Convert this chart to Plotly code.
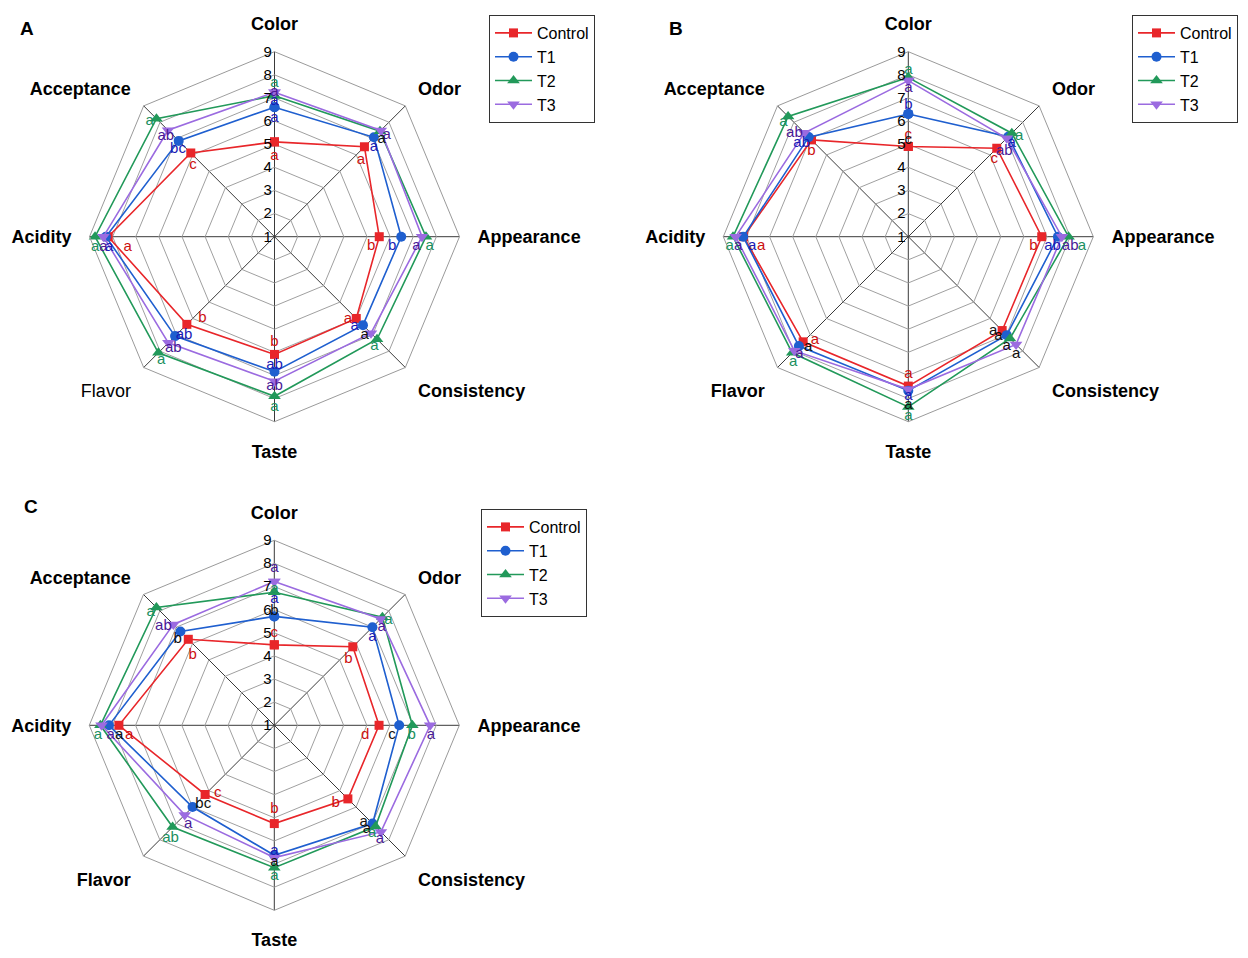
import math
import plotly.graph_objects as go

# ---------------- data ----------------
categories = ["Color", "Odor", "Appearance", "Consistency", "Taste", "Flavor", "Acidity", "Acceptance"]
series_names = ["Control", "T1", "T2", "T3"]
radial_ticks = [1, 2, 3, 4, 5, 6, 7, 8, 9]

A_control = [5.10, 6.50, 5.53, 6.00, 6.09, 6.36, 8.19, 6.12]
A_t1 = [6.60, 7.08, 6.48, 6.41, 6.84, 7.08, 8.29, 6.86]
A_t2 = [7.10, 7.45, 7.55, 7.27, 7.90, 8.10, 8.76, 8.22]
A_t3 = [7.25, 7.50, 7.38, 6.90, 7.25, 7.49, 8.40, 7.51]

B_control = [4.90, 6.41, 6.77, 6.74, 7.46, 7.43, 8.12, 6.92]
B_t1 = [6.31, 7.12, 7.47, 7.02, 7.66, 7.69, 8.14, 7.09]
B_t2 = [7.88, 7.33, 7.93, 7.22, 8.36, 8.10, 8.58, 8.35]
B_t3 = [7.75, 7.02, 7.64, 7.59, 7.60, 7.97, 8.47, 7.35]

C_control = [4.48, 5.80, 5.53, 5.50, 5.25, 5.23, 7.72, 6.26]
C_t1 = [5.71, 7.00, 6.40, 7.01, 6.62, 6.00, 8.15, 6.74]
C_t2 = [6.75, 7.61, 6.97, 7.19, 7.16, 7.22, 8.52, 8.21]
C_t3 = [7.22, 7.50, 7.74, 7.52, 6.72, 6.48, 8.47, 7.17]

# significance letters: (series index, category index, letter, colour key)
A_letters = [
    (2, 0, "a", "T2"), (3, 0, "a", "T3"), (1, 0, "a", "T1"), (1, 0, "a", "T1"), (0, 0, "a", "C"),
    (0, 1, "a", "C"), (1, 1, "a", "T1"), (3, 1, "a", "T3"), (2, 1, "a", "K"),
    (0, 2, "b", "C"), (1, 2, "b", "T1"), (3, 2, "a", "T3"), (2, 2, "a", "T2"),
    (0, 3, "a", "C"), (1, 3, "a", "T1"), (3, 3, "a", "K"), (2, 3, "a", "T2"),
    (0, 4, "b", "C"), (1, 4, "ab", "T1"), (3, 4, "ab", "T3"), (2, 4, "a", "T2"),
    (0, 5, "b", "C"), (1, 5, "ab", "T1"), (3, 5, "ab", "T3"), (2, 5, "a", "T2"),
    (2, 6, "a", "T2"), (3, 6, "a", "T3"), (1, 6, "a", "T1"), (0, 6, "a", "C"),
    (0, 7, "c", "C"), (1, 7, "bc", "T1"), (3, 7, "ab", "T3"), (2, 7, "a", "T2"),
]
B_letters = [
    (2, 0, "a", "T2"), (3, 0, "a", "T3"), (1, 0, "b", "T1"), (0, 0, "c", "C"), (0, 0, "c", "K"),
    (0, 1, "c", "C"), (3, 1, "ab", "T3"), (1, 1, "a", "T1"), (2, 1, "a", "T2"),
    (0, 2, "b", "C"), (1, 2, "ab", "T1"), (3, 2, "ab", "T3"), (2, 2, "a", "T2"),
    (0, 3, "a", "K"), (1, 3, "a", "K"), (2, 3, "a", "K"), (3, 3, "a", "K"),
    (0, 4, "a", "C"), (1, 4, "a", "T1"), (3, 4, "a", "K"), (2, 4, "a", "T2"),
    (0, 5, "a", "C"), (1, 5, "a", "K"), (3, 5, "a", "T3"), (2, 5, "a", "T2"),
    (2, 6, "a", "T2"), (3, 6, "a", "T3"), (1, 6, "a", "T1"), (0, 6, "a", "C"),
    (0, 7, "b", "C"), (1, 7, "ab", "T1"), (3, 7, "ab", "T3"), (2, 7, "a", "T2"),
]
C_letters = [
    (3, 0, "a", "T3"), (2, 0, "a", "T2"), (1, 0, "a", "T1"), (1, 0, "b", "K"), (0, 0, "c", "C"),
    (0, 1, "b", "C"), (1, 1, "a", "T1"), (3, 1, "a", "T3"), (2, 1, "a", "T2"),
    (0, 2, "d", "C"), (1, 2, "c", "K"), (2, 2, "b", "T2"), (3, 2, "a", "T3"),
    (0, 3, "b", "C"), (1, 3, "a", "K"), (2, 3, "a", "K"), (2, 3, "a", "T2"), (3, 3, "a", "T3"),
    (0, 4, "b", "C"), (1, 4, "a", "T1"), (3, 4, "a", "K"), (2, 4, "a", "T2"),
    (0, 5, "c", "C"), (1, 5, "bc", "K"), (3, 5, "a", "T3"), (2, 5, "ab", "T2"),
    (2, 6, "a", "T2"), (3, 6, "a", "T3"), (1, 6, "a", "K"), (0, 6, "a", "C"),
    (0, 7, "b", "C"), (1, 7, "b", "K"), (3, 7, "ab", "T3"), (2, 7, "a", "T2"),
]

# ---------------- label placement (screen px offsets from the point: right, down) ----------------
A_offsets = [(0, -12.5), (0, 0), (0, -6), (0, 11), (0, 14.7),
             (-3.5, 14), (0, 10), (6, 4.5), (1.6, 7.7),
             (-8, 10), (-9, 10), (-5.7, 10), (3.6, 10),
             (-8.3, 1), (-8.4, 1), (-6.4, 1.7), (-2.7, 7.4),
             (0, -12), (0, -6), (0, 5), (0, 10.7),
             (15.6, -6), (9, -0.7), (5, 5.4), (2.7, 7.3),
             (0, 11), (0, 11), (3.3, 11), (19.4, 11),
             (2.3, 12.7), (-0.7, 8.3), (-2.3, 6), (-6.7, 2.3)]
B_offsets = [(0, -7), (0, 7.6), (0, -9), (0, -11.7), (0, -6.7),
             (-2.4, 11.4), (-2.4, 12.7), (3.4, 6.3), (7.3, 3.4),
             (-8.4, 10), (-5.4, 10), (8.3, 10), (13.4, 10),
             (-9, 1), (-8.4, 1), (-3.3, 7.6), (0, 10),
             (0, -12), (0, 5.3), (0, 15.7), (0, 9),
             (11.7, -1.7), (9.3, 1.6), (5, 4), (1, 9.4),
             (-3.3, 10), (2.6, 10), (9, 10), (17.4, 10),
             (0, 11.4), (-7, 6), (-10, 0), (-4.7, 5.7)]
C_offsets = [(0, -13.4), (0, -3.4), (0, -16.7), (0, -5), (0, -11.7),
             (-4.4, 12.7), (0, 9.6), (1, 8), (6, 3.4),
             (-14, 10), (-7.3, 10), (-0.6, 10), (0.7, 10),
             (-12.3, 4), (-9, -1), (-8.7, 2.4), (-3.3, 6.7), (-1, 7.7),
             (0, -14.3), (0, -4.4), (0, 5), (0, 8.3),
             (12.7, -1.7), (10.7, -2.7), (3.4, 9.3), (-2, 11.7),
             (-2.4, 10), (9, 10), (10.3, 10), (10.3, 10),
             (4.3, 16), (-2.7, 8.3), (-10, 1.7), (-5.7, 4.4)]

# ---------------- styles ----------------
W, H = 1248, 958
R_PX = 185.0
PX_PER_UNIT = R_PX / (radial_ticks[-1] - radial_ticks[0])
FONT = "Arial, Liberation Sans, sans-serif"

line_colors = ["#e8262a", "#1f5fcf", "#22995a", "#9b6be0"]
marker_symbols = ["square", "circle", "triangle-up", "triangle-down"]
marker_sizes = [9, 10, 11, 11]
letter_colors = {"C": "#cc1010", "T1": "#1a1ab4", "T2": "#1a9060", "T3": "#4a1a96", "K": "#111111"}

panels = [
    dict(name="A", center=(274.5, 236.7), data=[A_control, A_t1, A_t2, A_t3],
         letters=A_letters, offsets=A_offsets, legend="legend", plain=["Flavor"]),
    dict(name="B", center=(908.3, 236.7), data=[B_control, B_t1, B_t2, B_t3],
         letters=B_letters, offsets=B_offsets, legend="legend2", plain=[]),
    dict(name="C", center=(274.3, 725.3), data=[C_control, C_t1, C_t2, C_t3],
         letters=C_letters, offsets=C_offsets, legend="legend3", plain=[]),
]
legend_pos = {"legend": (489, 15), "legend2": (1132, 15), "legend3": (481, 509)}
panel_label_pos = {"A": (18, 16), "B": (676, 16), "C": (22, 506)}

fig = go.Figure()
layout = {}

for i, p in enumerate(panels):
    main = "polar" if i == 0 else f"polar{2 * i + 1}"
    over = f"polar{2 * i + 2}"
    cx, cy = p["center"]
    dom = dict(x=[(cx - R_PX) / W, (cx + R_PX) / W],
               y=[1 - (cy + R_PX) / H, 1 - (cy - R_PX) / H])
    ticktext = [c if c in p["plain"] else f"<b>{c}</b>" for c in categories]
    layout[main] = dict(
        domain=dom, gridshape="linear", bgcolor="white",
        angularaxis=dict(type="category", categoryarray=categories, rotation=90, direction="clockwise",
                         tickmode="array", tickvals=categories, ticktext=ticktext,
                         tickfont=dict(family=FONT, size=18, color="black"),
                         ticks="outside", ticklen=14, tickcolor="rgba(0,0,0,0)",
                         showline=True, linecolor="#9a9a9a", linewidth=1,
                         showgrid=True, gridcolor="#3a3a3a", gridwidth=1),
        radialaxis=dict(range=[radial_ticks[0], radial_ticks[-1]], angle=90, tickangle=90,
                        side="counterclockwise",
                        tickmode="array", tickvals=radial_ticks, ticktext=[str(t) for t in radial_ticks],
                        tickfont=dict(family=FONT, size=15, color="black"),
                        showline=False, ticks="", showgrid=True, gridcolor="#a0a0a0", gridwidth=1),
    )
    layout[over] = dict(
        domain=dom, bgcolor="rgba(0,0,0,0)",
        angularaxis=dict(rotation=90, direction="clockwise", thetaunit="degrees",
                         visible=False, showgrid=False, showline=False, showticklabels=False),
        radialaxis=dict(range=[radial_ticks[0], radial_ticks[-1]], visible=False,
                        showgrid=False, showline=False, showticklabels=False),
    )
    # series
    for s, vals in enumerate(p["data"]):
        fig.add_trace(go.Scatterpolar(
            r=list(vals) + [vals[0]], theta=categories + [categories[0]],
            mode="lines+markers", name=series_names[s], subplot=main, legend=p["legend"],
            line=dict(color=line_colors[s], width=1.6),
            marker=dict(symbol=marker_symbols[s], size=marker_sizes[s], color=line_colors[s]),
        ))
    # letters
    rr, tt, txt, cols = [], [], [], []
    for (s, k, letter, ck), (dx, dy) in zip(p["letters"], p["offsets"]):
        v = p["data"][s][k]
        ang = math.radians(45 * k)
        rpx = (v - radial_ticks[0]) * PX_PER_UNIT
        x = rpx * math.sin(ang) + dx
        y = rpx * math.cos(ang) - dy
        rr.append(radial_ticks[0] + math.hypot(x, y) / PX_PER_UNIT)
        tt.append(math.degrees(math.atan2(x, y)) % 360)
        txt.append(letter)
        cols.append(letter_colors[ck])
    fig.add_trace(go.Scatterpolar(
        r=rr, theta=tt, mode="text", text=txt, subplot=over, showlegend=False,
        textposition="middle center", cliponaxis=False, hoverinfo="skip",
        textfont=dict(family=FONT, size=15, color=cols),
    ))
    lx, ly = legend_pos[p["legend"]]
    layout[p["legend"]] = dict(
        x=lx / W, y=1 - ly / H, xanchor="left", yanchor="top",
        bgcolor="white", bordercolor="#333333", borderwidth=1,
        font=dict(family=FONT, size=16, color="black"), tracegroupgap=0, itemwidth=37,
    )
    px_, py_ = panel_label_pos[p["name"]]
    fig.add_annotation(x=px_ / W, y=1 - py_ / H, xref="paper", yref="paper",
                       text=f"<b>{p['name']}</b>", showarrow=False,
                       font=dict(family=FONT, size=19, color="black"))

fig.update_layout(width=W, height=H, margin=dict(l=0, r=0, t=0, b=0),
                  paper_bgcolor="white", plot_bgcolor="white", showlegend=True, **layout)

fig.write_html("out.html", config={"displayModeBar": False},
               post_script="document.body.style.margin='0';")
